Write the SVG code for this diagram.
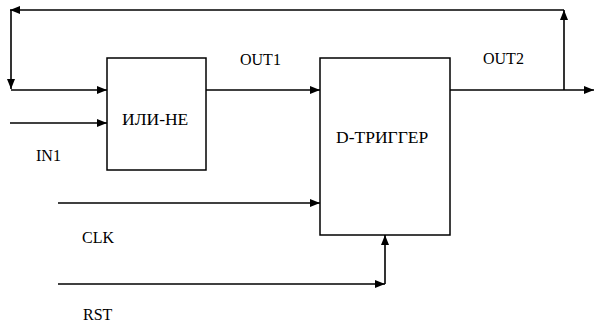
<svg xmlns="http://www.w3.org/2000/svg" width="595" height="327" viewBox="0 0 595 327">
<style>
.box{fill:#fff;stroke:#000;stroke-width:1.5}
.w{fill:none;stroke:#000;stroke-width:1.6}
.t{font-family:'Liberation Serif','Times New Roman',serif;font-size:16px;fill:#000}
.b{font-size:17.5px}
</style>
<defs>
<marker id="ah" viewBox="0 0 10 8" refX="10" refY="4" markerWidth="10" markerHeight="8" markerUnits="userSpaceOnUse" orient="auto">
<path d="M0,0 L10,4 L0,8 Z" fill="#000"/>
</marker>
</defs>
<rect width="595" height="327" fill="#fff"/>
<g id="connectors">
<path class="w" d="M564,90 L564,10" marker-end="url(#ah)"/>
<path class="w" d="M564,10 L10,10" marker-end="url(#ah)"/>
<path class="w" d="M11,10 L11,89" marker-end="url(#ah)"/>
<path class="w" d="M11,90 L107,90" marker-end="url(#ah)"/>
<path class="w" d="M10,123 L107,123" marker-end="url(#ah)"/>
<path class="w" d="M206,90 L320,90" marker-end="url(#ah)"/>
<path class="w" d="M450,90 L594,90" marker-end="url(#ah)"/>
<path class="w" d="M58,203 L320,203" marker-end="url(#ah)"/>
<path class="w" d="M58,284 L385,284" marker-end="url(#ah)"/>
<path class="w" d="M385,284 L385,235" marker-end="url(#ah)"/>
</g>
<g id="nor">
<rect class="box" x="107" y="58" width="99" height="112"/>
<text class="t b" x="122" y="125">ИЛИ-НЕ</text>
</g>
<g id="dff">
<rect class="box" x="320" y="58" width="130" height="177"/>
<text class="t b" x="336" y="143">D-ТРИГГЕР</text>
</g>
<g id="labels">
<text class="t" x="240" y="65">OUT1</text>
<text class="t" x="483" y="64">OUT2</text>
<text class="t" x="36" y="161">IN1</text>
<text class="t" x="82" y="243">CLK</text>
<text class="t" x="83" y="320">RST</text>
</g>
</svg>
